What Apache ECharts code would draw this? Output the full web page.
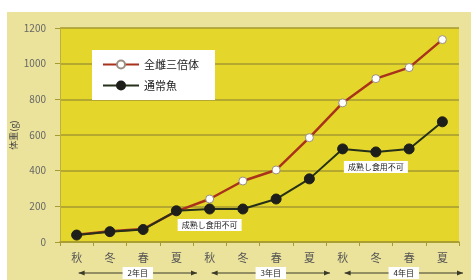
<!DOCTYPE html>
<html>
<head>
<meta charset="utf-8">
<script src="https://cdn.jsdelivr.net/npm/echarts@6/dist/echarts.min.js"></script>
<style>
  html, body { margin: 0; padding: 0; background: #fff; }
  #main { position: absolute; left: 7px; top: 12px; width: 464px; height: 268px; }
</style>
</head>
<body>
<div id="main"></div>
<script>
// 季節（2年目秋〜4年目夏）
const seasons = ['秋', '冬', '春', '夏', '秋', '冬', '春', '夏', '秋', '冬', '春', '夏'];
// 全雌三倍体 体重(g)
const triploid = [40, 60, 73, 172, 241, 342, 404, 585, 780, 916, 978, 1135];
// 通常魚 体重(g)
const normal = [39, 58, 70, 175, 185, 185, 241, 354, 522, 505, 522, 674];
const yTicks = [0, 200, 400, 600, 800, 1000, 1200];
// 年目の区切り（カテゴリ index）
const years = [
    { name: '2年目', from: 0, to: 3 },
    { name: '3年目', from: 4, to: 7 },
    { name: '4年目', from: 8, to: 11 }
];
// 注記
const notes = [
    { text: '成熟し食用不可', cat: 4, value: 95 },
    { text: '成熟し食用不可', cat: 9, value: 420 }
];

const font = '"Noto Sans CJK JP", "Noto Sans", sans-serif';
let chart = echarts.init(document.getElementById('main'));

chart.setOption({
    backgroundColor: '#ebe39c',
    textStyle: { fontFamily: font },
    animation: false,
    grid: {
        left: 53, right: 12, top: 16, bottom: 38,
        outerBoundsMode: 'none',
        show: true, backgroundColor: '#e4d62a', borderWidth: 0
    },
    legend: {
        orient: 'vertical',
        left: 85, top: 38,
        backgroundColor: '#ffffff',
        padding: [9, 16, 9, 10],
        itemGap: 10,
        itemWidth: 36, itemHeight: 10,
        textStyle: { fontSize: 11, color: '#222', fontFamily: font },
        data: ['全雌三倍体', '通常魚']
    },
    xAxis: {
        type: 'category',
        data: seasons,
        boundaryGap: true,
        axisLine: { lineStyle: { color: '#a69a30', width: 1.5 } },
        axisTick: { show: true, length: 4, lineStyle: { color: '#a69a30' } },
        axisLabel: { color: '#555', fontSize: 11, margin: 10, fontFamily: font }
    },
    yAxis: {
        type: 'value',
        min: yTicks[0], max: yTicks[yTicks.length - 1], interval: 200,
        name: '体重(g)',
        nameLocation: 'middle',
        nameRotate: 90,
        nameGap: 42,
        nameMoveOverlap: false,
        nameTextStyle: { color: '#444', fontSize: 9, fontFamily: font },
        axisLine: { show: true, lineStyle: { color: '#bdb040', width: 1 } },
        axisTick: { show: true, length: 5, lineStyle: { color: '#a69a30' } },
        axisLabel: {
            color: '#666', fontSize: 10, margin: 14,
            formatter: function (v) { return String(v); }
        },
        splitLine: { lineStyle: { color: '#a59a30', width: 1.5 } }
    },
    series: [
        {
            name: '全雌三倍体',
            type: 'line',
            data: triploid,
            symbol: 'circle',
            symbolSize: 8,
            z: 3,
            lineStyle: { color: '#a8321c', width: 2.5 },
            itemStyle: { color: '#ffffff', borderColor: '#9a8f80', borderWidth: 1 }
        },
        {
            name: '通常魚',
            type: 'line',
            data: normal,
            symbol: 'circle',
            symbolSize: 10,
            z: 4,
            lineStyle: { color: '#26301a', width: 2 },
            itemStyle: { color: '#1e1e1a', borderColor: '#1e1e1a', borderWidth: 1 }
        }
    ]
});

// 注記と年目の矢印を軸の座標から配置
let graphics = [];
notes.forEach(function (n) {
    let p = chart.convertToPixel({ gridIndex: 0 }, [n.cat, n.value]);
    graphics.push({
        type: 'text',
        x: p[0], y: p[1],
        z: 10,
        style: {
            text: n.text,
            fill: '#222',
            font: '8px ' + font,
            align: 'center',
            verticalAlign: 'middle',
            backgroundColor: '#ffffff',
            padding: [2, 4]
        }
    });
});

let lineY = 261;
let step = chart.convertToPixel({ gridIndex: 0 }, [1, 0])[0] - chart.convertToPixel({ gridIndex: 0 }, [0, 0])[0];
years.forEach(function (yr) {
    let x0 = chart.convertToPixel({ gridIndex: 0 }, [yr.from, 0])[0] + 2;
    let x1 = chart.convertToPixel({ gridIndex: 0 }, [yr.to, 0])[0] + step / 2 + 4;
    let mid = (x0 + x1) / 2;
    graphics.push({
        type: 'line', z: 5,
        shape: { x1: x0, y1: lineY, x2: x1, y2: lineY },
        style: { stroke: '#3a3a2a', lineWidth: 1 }
    });
    graphics.push({
        type: 'polygon', z: 5,
        shape: { points: [[x0, lineY], [x0 + 6, lineY - 2.5], [x0 + 6, lineY + 2.5]] },
        style: { fill: '#3a3a2a' }
    });
    graphics.push({
        type: 'polygon', z: 5,
        shape: { points: [[x1, lineY], [x1 - 6, lineY - 2.5], [x1 - 6, lineY + 2.5]] },
        style: { fill: '#3a3a2a' }
    });
    graphics.push({
        type: 'text', z: 6,
        x: mid, y: lineY,
        style: {
            text: yr.name,
            fill: '#222',
            font: '8px ' + font,
            align: 'center',
            verticalAlign: 'middle',
            backgroundColor: '#ffffff',
            padding: [2, 5]
        }
    });
});
chart.setOption({ graphic: graphics });
</script>
</body>
</html>
